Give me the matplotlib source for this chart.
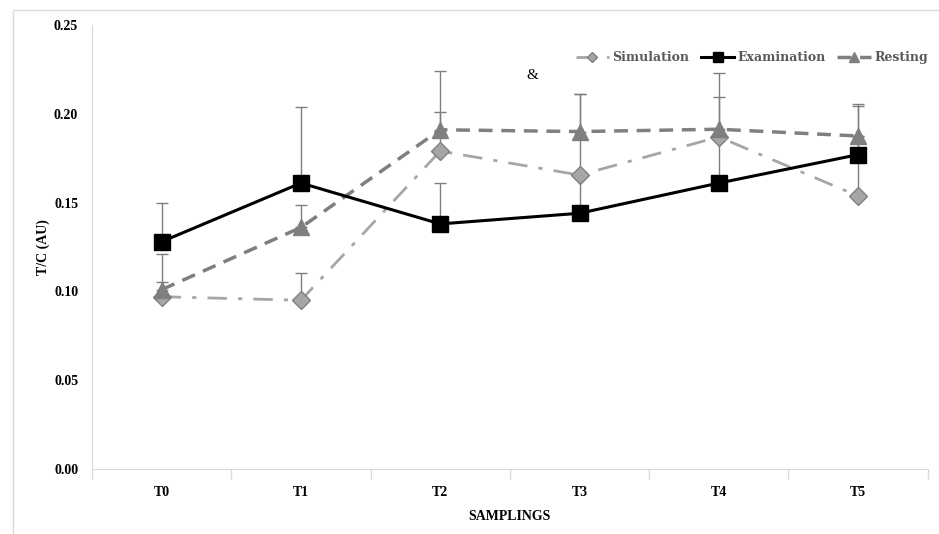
import numpy as np
import matplotlib
matplotlib.use("Agg")
import matplotlib.pyplot as plt
from matplotlib.patches import Rectangle

plt.rcParams['font.family'] = ['Liberation Serif', 'DejaVu Serif']

samplings = ["T0", "T1", "T2", "T3", "T4", "T5"]
simulation = [0.097, 0.095, 0.179, 0.1655, 0.187, 0.1537]
simulation_err = [0.0085, 0.0155, 0.0453, 0.0, 0.0, 0.052]
examination = [0.128, 0.161, 0.138, 0.144, 0.161, 0.177]
examination_err = [0.022, 0.0426, 0.023, 0.067, 0.0618, 0.0274]
resting = [0.101, 0.136, 0.191, 0.190, 0.1913, 0.1875]
resting_err = [0.020, 0.0127, 0.010, 0.021, 0.018, 0.0]

x = np.arange(len(samplings))
fig = plt.figure(figsize=(9.39, 5.34), dpi=100)
ax = fig.add_axes([0.098, 0.1217, 0.89, 0.8315])

# outer frame
fig.patches.append(Rectangle((13/939, -0.1), 1.2, 1.1 - 9.5/534, transform=fig.transFigure,
                             fill=False, edgecolor='#d9d9d9', lw=1.0))

ekw = dict(fmt='none', ecolor='#7f7f7f', elinewidth=1.0, capsize=4, capthick=1.0, zorder=2)
ax.errorbar(x, simulation, yerr=[np.zeros(6), simulation_err], **ekw)
ax.errorbar(x, examination, yerr=[np.zeros(6), examination_err], **ekw)
ax.errorbar(x, resting, yerr=[np.zeros(6), resting_err], **ekw)

ax.plot(x, simulation, color='#a6a6a6', lw=2, ls=(0, (7, 4, 1.5, 4)), marker='D', markersize=9,
        markerfacecolor='#a6a6a6', markeredgecolor='#7f7f7f', markeredgewidth=1, label='Simulation', zorder=3)
ax.plot(x, examination, color='black', lw=2.2, ls='-', marker='s', markersize=12,
        markerfacecolor='black', markeredgecolor='black', label='Examination', zorder=4)
ax.plot(x, resting, color='#7f7f7f', lw=2.5, ls=(0, (4, 2.5)), marker='^', markersize=12,
        markerfacecolor='#7f7f7f', markeredgecolor='#7f7f7f', label='Resting', zorder=3)

ax.text(2.66, 0.2215, '&', fontsize=11, ha='center', va='center', color='black')

ax.set_xlim(-0.5, 5.5)
ax.set_ylim(0, 0.25)
ax.set_yticks([0, 0.05, 0.10, 0.15, 0.20, 0.25])
ax.set_yticklabels(['0.00', '0.05', '0.10', '0.15', '0.20', '0.25'], fontsize=10, fontweight='bold')
ax.set_xticks(x)
ax.set_xticklabels(samplings, fontsize=10, fontweight='bold')
ax.set_xticks(np.arange(-0.5, 6, 1), minor=True)
ax.tick_params(axis='x', which='major', length=0, pad=12)
ax.tick_params(axis='x', which='minor', length=7, color='#d9d9d9', width=1)
ax.tick_params(axis='y', length=0, pad=10)

for s in ['top', 'right']:
    ax.spines[s].set_visible(False)
for s in ['left', 'bottom']:
    ax.spines[s].set_color('#d9d9d9')

ax.set_xlabel('SAMPLINGS', fontsize=10, fontweight='bold', labelpad=8)
ax.set_ylabel('T/C (AU)', fontsize=10, fontweight='bold', labelpad=3)

leg = ax.legend(loc='center right', bbox_to_anchor=(1.0, 0.926), ncol=3, frameon=False,
                handlelength=2.7, handletextpad=0.25, columnspacing=0.9, borderpad=0, borderaxespad=0,
                prop={'family': 'DejaVu Serif', 'weight': 'bold', 'size': 9}, markerscale=0.55)
for t in leg.get_texts():
    t.set_color('#595959')

fig.savefig('out.png', dpi=100)
